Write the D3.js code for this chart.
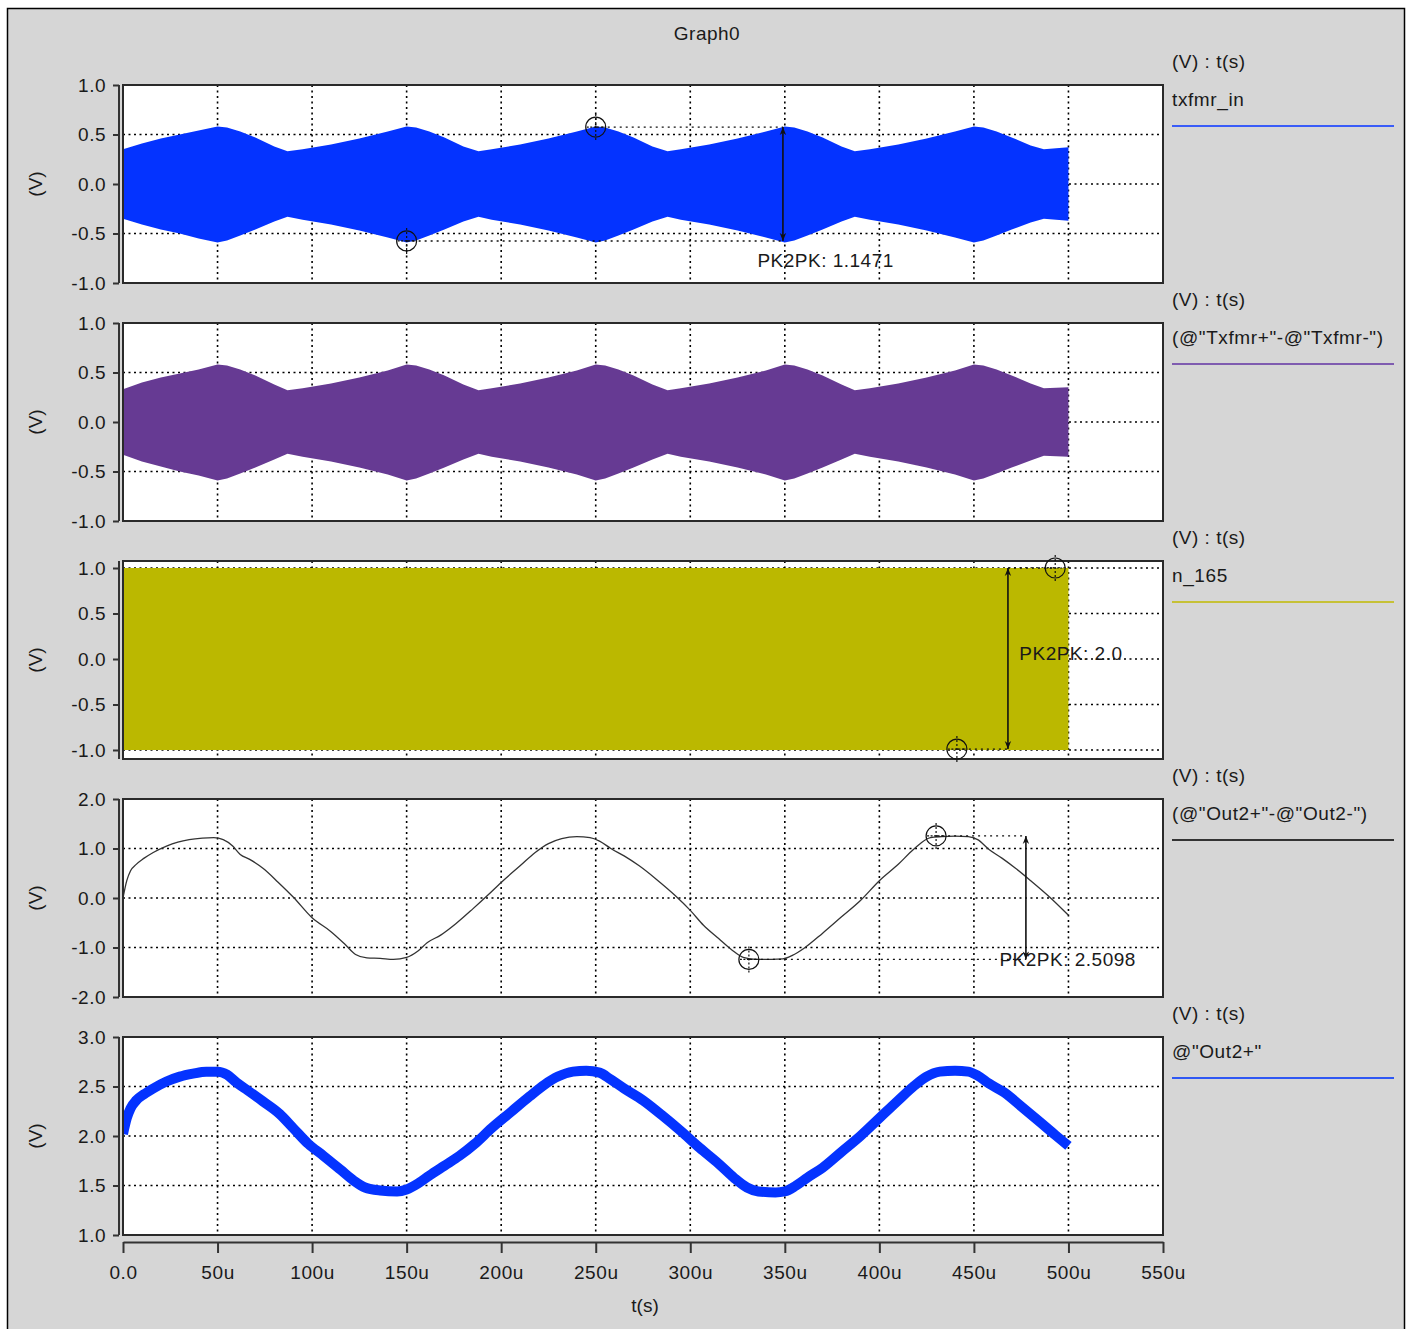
<!DOCTYPE html>
<html><head><meta charset="utf-8">
<script src="https://cdn.jsdelivr.net/npm/d3@7"></script>
<style>
html,body{margin:0;padding:0;background:#fff;}
text{font-family:"Liberation Sans",Arial,sans-serif;fill:#1a1a1a;}
</style>
</head><body>
<svg id="c" width="1410" height="1329"></svg>
<script>
// ---------------- DATA ----------------
const title = "Graph0";
const xTickValues = [0, 50, 100, 150, 200, 250, 300, 350, 400, 450, 500, 550]; // microseconds
const xTickLabels = ["0.0", "50u", "100u", "150u", "200u", "250u", "300u", "350u", "400u", "450u", "500u", "550u"];
const xLabel = "t(s)";

const seriesNames = ["txfmr_in", "(@\"Txfmr+\"-@\"Txfmr-\")", "n_165", "(@\"Out2+\"-@\"Out2-\")", "@\"Out2+\""];
const legendHeader = "(V) : t(s)";
const yLabel = "(V)";

const yTicksA = [-1.0, -0.5, 0.0, 0.5, 1.0];
const yTickLabelsA = ["-1.0", "-0.5", "0.0", "0.5", "1.0"];
const yTicksD = [-2.0, -1.0, 0.0, 1.0, 2.0];
const yTickLabelsD = ["-2.0", "-1.0", "0.0", "1.0", "2.0"];
const yTicksE = [1.0, 1.5, 2.0, 2.5, 3.0];
const yTickLabelsE = ["1.0", "1.5", "2.0", "2.5", "3.0"];

// envelope of txfmr_in (time in us, upper and lower envelope in V)
const envT = [0, 10, 20, 30, 40, 50, 55, 62, 70, 80, 87, 95, 110, 125, 140, 150, 155, 162, 170, 180, 188, 195, 210, 225, 240, 250, 255, 262, 270, 280, 288, 295, 310, 325, 340, 350, 355, 362, 370, 380, 387, 395, 410, 425, 440, 450, 455, 462, 470, 480, 487, 500];
const env1Hi = [0.35, 0.41, 0.46, 0.50, 0.54, 0.58, 0.57, 0.53, 0.47, 0.38, 0.33, 0.35, 0.40, 0.46, 0.53, 0.58, 0.57, 0.53, 0.47, 0.38, 0.33, 0.35, 0.40, 0.46, 0.53, 0.58, 0.57, 0.53, 0.47, 0.38, 0.33, 0.35, 0.40, 0.46, 0.53, 0.58, 0.57, 0.53, 0.47, 0.38, 0.33, 0.35, 0.40, 0.46, 0.53, 0.58, 0.57, 0.53, 0.47, 0.39, 0.35, 0.37];
const env1Lo = [-0.35, -0.41, -0.46, -0.50, -0.55, -0.59, -0.57, -0.52, -0.46, -0.38, -0.33, -0.36, -0.41, -0.47, -0.54, -0.59, -0.57, -0.52, -0.46, -0.38, -0.33, -0.36, -0.41, -0.47, -0.54, -0.59, -0.57, -0.52, -0.46, -0.38, -0.33, -0.36, -0.41, -0.47, -0.54, -0.59, -0.57, -0.52, -0.46, -0.38, -0.33, -0.36, -0.41, -0.47, -0.54, -0.59, -0.57, -0.52, -0.46, -0.39, -0.35, -0.37];
// envelope of Txfmr+ - Txfmr-
const env2Hi = [0.33, 0.40, 0.45, 0.49, 0.53, 0.58, 0.57, 0.53, 0.47, 0.38, 0.32, 0.34, 0.39, 0.45, 0.52, 0.58, 0.57, 0.53, 0.47, 0.38, 0.32, 0.34, 0.39, 0.45, 0.52, 0.58, 0.57, 0.53, 0.47, 0.38, 0.32, 0.34, 0.39, 0.45, 0.52, 0.58, 0.57, 0.53, 0.47, 0.38, 0.32, 0.34, 0.39, 0.45, 0.52, 0.58, 0.57, 0.53, 0.47, 0.39, 0.34, 0.35];
const env2Lo = [-0.33, -0.40, -0.45, -0.50, -0.54, -0.59, -0.57, -0.52, -0.46, -0.38, -0.32, -0.35, -0.40, -0.46, -0.53, -0.59, -0.57, -0.52, -0.46, -0.38, -0.32, -0.35, -0.40, -0.46, -0.53, -0.59, -0.57, -0.52, -0.46, -0.38, -0.32, -0.35, -0.40, -0.46, -0.53, -0.59, -0.57, -0.52, -0.46, -0.38, -0.32, -0.35, -0.40, -0.46, -0.53, -0.59, -0.57, -0.52, -0.46, -0.39, -0.34, -0.35];
// n_165 square wave envelope
const n165T = [0, 500];
const n165Hi = [1.0, 1.0];
const n165Lo = [-1.0, -1.0];
// Out2+ - Out2-
const diffT = [0, 2, 4, 7, 11, 16, 23, 29, 35, 42, 48, 53, 58, 62, 67, 74, 82, 90, 100, 110, 117, 123, 129, 136, 143, 150, 156, 161, 168, 176, 185, 193, 201, 210, 218, 225, 232, 240, 247, 252, 258, 265, 273, 282, 292, 300, 307, 315, 322, 328, 335, 343, 349, 354, 360, 370, 380, 390, 400, 410, 418, 427, 433, 440, 447, 452, 458, 465, 472, 480, 490, 500];
const diffV = [0.0, 0.35, 0.55, 0.68, 0.80, 0.92, 1.05, 1.13, 1.18, 1.21, 1.22, 1.18, 1.05, 0.88, 0.78, 0.60, 0.32, 0.02, -0.40, -0.68, -0.92, -1.14, -1.21, -1.22, -1.24, -1.20, -1.07, -0.90, -0.75, -0.52, -0.22, 0.06, 0.35, 0.65, 0.92, 1.10, 1.20, 1.24, 1.22, 1.15, 1.00, 0.85, 0.65, 0.38, 0.05, -0.25, -0.55, -0.82, -1.05, -1.20, -1.24, -1.24, -1.23, -1.16, -1.02, -0.71, -0.38, -0.05, 0.35, 0.68, 0.98, 1.22, 1.24, 1.25, 1.24, 1.18, 0.98, 0.80, 0.60, 0.35, 0.02, -0.35];
// Out2+
const outT = [0, 2, 4, 7, 11, 16, 23, 30, 37, 44, 50, 55, 60, 66, 74, 83, 90, 98, 106, 115, 122, 128, 136, 145, 150, 156, 162, 170, 178, 186, 195, 205, 215, 223, 230, 238, 245, 252, 258, 265, 275, 285, 295, 305, 315, 323, 330, 336, 345, 350, 356, 362, 370, 380, 390, 400, 410, 418, 425, 432, 440, 447, 452, 458, 466, 475, 485, 493, 500];
const outV = [2.02, 2.18, 2.28, 2.36, 2.42, 2.48, 2.55, 2.60, 2.63, 2.65, 2.65, 2.62, 2.54, 2.46, 2.35, 2.22, 2.08, 1.92, 1.80, 1.66, 1.55, 1.48, 1.45, 1.44, 1.46, 1.52, 1.60, 1.70, 1.80, 1.92, 2.08, 2.24, 2.40, 2.52, 2.60, 2.65, 2.66, 2.64, 2.57, 2.48, 2.36, 2.21, 2.05, 1.88, 1.72, 1.58, 1.48, 1.44, 1.43, 1.44, 1.50, 1.58, 1.68, 1.84, 2.00, 2.18, 2.36, 2.50, 2.60, 2.65, 2.66, 2.65, 2.61, 2.53, 2.44, 2.30, 2.14, 2.01, 1.90];

// PK2PK measurement annotations (time in us, value in V)
const pk1Markers = [[250, 0.575], [150, -0.575]];
const pk1ArrowT = 349, pk1Text = "PK2PK: 1.1471", pk1TextPos = [335.5, -0.84];
const pk3Markers = [[493, 1.0], [441, -0.99]];
const pk3ArrowT = 468, pk3Text = "PK2PK: 2.0", pk3TextPos = [474, -0.01];
const pk4Markers = [[430, 1.255], [331, -1.24]];
const pk4ArrowT = 477.5, pk4Text = "PK2PK: 2.5098", pk4TextPos = [463.5, -1.38];

// ---------------- DRAW ----------------
const svg = d3.select("#c");
const FS = 19;
svg.append("rect").attr("x", 0).attr("y", 0).attr("width", 1410).attr("height", 1329).attr("fill", "#fff");
svg.append("rect").attr("x", 7.5).attr("y", 8.5).attr("width", 1397).attr("height", 1340)
  .attr("fill", "#d6d6d6").attr("stroke", "#000").attr("stroke-width", 1.5);

svg.append("text").attr("x", 707).attr("y", 40).attr("text-anchor", "middle")
  .attr("font-size", FS).attr("letter-spacing", 0.5).text(title);

const x = d3.scaleLinear().domain([0, 550]).range([123, 1163]);
const plotTop0 = 85, pitch = 238, ph = 198;

svg.append("defs").append("marker").attr("id", "ah").attr("viewBox", "0 0 10 10")
  .attr("refX", 10).attr("refY", 5).attr("markerWidth", 8).attr("markerHeight", 9)
  .attr("markerUnits", "userSpaceOnUse").attr("orient", "auto-start-reverse")
  .append("path").attr("d", "M0,1 L10,5 L0,9 L3,5 Z").attr("fill", "#111");

const panels = [
  { dom: [-1, 1], ticks: yTicksA, labels: yTickLabelsA, kind: "env", t: envT, hi: env1Hi, lo: env1Lo, color: "#0433ff", leg: "#3a5cf8" },
  { dom: [-1, 1], ticks: yTicksA, labels: yTickLabelsA, kind: "env", t: envT, hi: env2Hi, lo: env2Lo, color: "#663a93", leg: "#7f5cb0" },
  { dom: [-1.099, 1.077], ticks: yTicksA, labels: yTickLabelsA, kind: "env", t: n165T, hi: n165Hi, lo: n165Lo, color: "#bbb800", leg: "#c6c136" },
  { dom: [-2, 2], ticks: yTicksD, labels: yTickLabelsD, kind: "line", t: diffT, v: diffV, color: "#333", width: 1.3, leg: "#333" },
  { dom: [1, 3], ticks: yTicksE, labels: yTickLabelsE, kind: "line", t: outT, v: outV, color: "#0433ff", width: 10, leg: "#2f58f4" }
];

const ys = [];
panels.forEach((p, i) => {
  const top = plotTop0 + i * pitch, bot = top + ph;
  const y = d3.scaleLinear().domain(p.dom).range([bot, top]);
  ys.push(y);
  const g = svg.append("g");
  const clipId = "clip" + i;
  svg.append("clipPath").attr("id", clipId).append("rect")
    .attr("x", x(0)).attr("y", top).attr("width", x(550) - x(0)).attr("height", ph);
  g.append("rect").attr("x", x(0)).attr("y", top).attr("width", x(550) - x(0)).attr("height", ph).attr("fill", "#fff");
  // grid
  const grid = g.append("g").attr("stroke", "#000").attr("stroke-width", 1.6).attr("stroke-dasharray", "2,3.5");
  xTickValues.filter(v => v > 0 && v < 550).forEach(v => {
    grid.append("line").attr("x1", x(v)).attr("x2", x(v)).attr("y1", top).attr("y2", bot);
  });
  p.ticks.forEach(v => {
    const yy = y(v);
    if (yy > top + 1 && yy < bot - 1)
      grid.append("line").attr("x1", x(0)).attr("x2", x(550)).attr("y1", yy).attr("y2", yy);
  });
  // data
  const dg = g.append("g").attr("clip-path", `url(#${clipId})`);
  if (p.kind === "env") {
    const rows = p.t.map((t, k) => ({ t, hi: p.hi[k], lo: p.lo[k] }));
    dg.append("path").datum(rows)
      .attr("d", d3.area().x(d => x(d.t)).y0(d => y(d.lo)).y1(d => y(d.hi)))
      .attr("fill", p.color);
  } else {
    const rows = p.t.map((t, k) => ({ t, v: p.v[k] }));
    dg.append("path").datum(rows)
      .attr("d", d3.line().x(d => x(d.t)).y(d => y(d.v)).curve(d3.curveMonotoneX))
      .attr("fill", "none").attr("stroke", p.color).attr("stroke-width", p.width)
      .attr("stroke-linecap", "butt").attr("stroke-linejoin", "round");
  }
  // box
  g.append("rect").attr("x", x(0)).attr("y", top).attr("width", x(550) - x(0)).attr("height", ph)
    .attr("fill", "none").attr("stroke", "#2a2a2a").attr("stroke-width", 2);
  // y axis
  const ax = g.append("g").attr("transform", "translate(119,0)")
    .call(d3.axisLeft(y).tickValues(p.ticks).tickFormat((d, k) => p.labels[k]).tickSize(6).tickSizeOuter(0).tickPadding(7));
  ax.select(".domain").remove();
  ax.append("line").attr("x1", 0).attr("x2", 0).attr("y1", top).attr("y2", bot).attr("stroke", "#333").attr("stroke-width", 2);
  ax.selectAll(".tick line").attr("stroke", "#333").attr("stroke-width", 2);
  ax.selectAll(".tick text").attr("font-size", FS).attr("letter-spacing", 0.5)
    .attr("font-family", "Liberation Sans, Arial, sans-serif").attr("fill", "#1a1a1a");
  g.append("text").attr("transform", `translate(35,${(top + bot) / 2}) rotate(-90)`)
    .attr("text-anchor", "middle").attr("dominant-baseline", "central").attr("font-size", FS).text(yLabel);
  // legend
  g.append("text").attr("x", 1172).attr("y", top - 17).attr("font-size", FS).attr("letter-spacing", 0.5).text(legendHeader);
  g.append("text").attr("x", 1172).attr("y", top + 21).attr("font-size", FS).attr("letter-spacing", 0.6).text(seriesNames[i]);
  g.append("line").attr("x1", 1172).attr("x2", 1394).attr("y1", top + 41).attr("y2", top + 41)
    .attr("stroke", p.leg).attr("stroke-width", 2);
});

// bottom x axis
const xa = svg.append("g").attr("transform", "translate(0,1242)")
  .call(d3.axisBottom(x).tickValues(xTickValues).tickFormat((d, k) => xTickLabels[k]).tickSize(11).tickSizeOuter(0).tickPadding(13));
xa.select(".domain").attr("stroke", "#333").attr("stroke-width", 2);
xa.selectAll(".tick line").attr("stroke", "#333").attr("stroke-width", 2);
xa.selectAll(".tick text").attr("font-size", FS).attr("letter-spacing", 0.6)
  .attr("font-family", "Liberation Sans, Arial, sans-serif").attr("fill", "#1a1a1a");
svg.append("text").attr("x", 645).attr("y", 1312).attr("text-anchor", "middle").attr("font-size", FS).text(xLabel);

// PK2PK annotations
function cursor(g, cx, cy) {
  const c = g.append("g");
  c.append("circle").attr("cx", cx).attr("cy", cy).attr("r", 10).attr("fill", "none").attr("stroke", "#111").attr("stroke-width", 1.2);
  c.append("line").attr("x1", cx - 9).attr("x2", cx + 9).attr("y1", cy).attr("y2", cy)
    .attr("stroke", "#111").attr("stroke-width", 1.2).attr("stroke-dasharray", "2,1.5");
  c.append("line").attr("x1", cx).attr("x2", cx).attr("y1", cy - 13).attr("y2", cy + 13)
    .attr("stroke", "#111").attr("stroke-width", 1.2).attr("stroke-dasharray", "2,2");
}
function pk(i, markers, arrowT, text, tpos, leaderEnds) {
  const y = ys[i];
  const g = svg.append("g");
  const [m1, m2] = markers;
  leaderEnds.forEach(([a, b, v]) => {
    g.append("line").attr("x1", x(a)).attr("x2", x(b)).attr("y1", y(v)).attr("y2", y(v))
      .attr("stroke", "#111").attr("stroke-width", 1.4).attr("stroke-dasharray", "2,4");
  });
  g.append("line").attr("x1", x(arrowT)).attr("x2", x(arrowT)).attr("y1", y(m1[1])).attr("y2", y(m2[1]))
    .attr("stroke", "#111").attr("stroke-width", 1.6)
    .attr("marker-start", "url(#ah)").attr("marker-end", "url(#ah)");
  cursor(g, x(m1[0]), y(m1[1]));
  cursor(g, x(m2[0]), y(m2[1]));
  g.append("text").attr("x", x(tpos[0])).attr("y", y(tpos[1])).attr("font-size", FS).attr("letter-spacing", 0.5).text(text);
}
pk(0, pk1Markers, pk1ArrowT, pk1Text, pk1TextPos,
  [[pk1Markers[0][0], pk1ArrowT, pk1Markers[0][1]], [pk1Markers[1][0], pk1ArrowT, pk1Markers[1][1]]]);
pk(2, pk3Markers, pk3ArrowT, pk3Text, pk3TextPos,
  [[pk3ArrowT, pk3Markers[0][0], pk3Markers[0][1]], [pk3Markers[1][0], pk3ArrowT, pk3Markers[1][1]]]);
pk(3, pk4Markers, pk4ArrowT, pk4Text, pk4TextPos,
  [[pk4Markers[0][0], pk4ArrowT, pk4Markers[0][1]], [pk4Markers[1][0], pk4ArrowT, pk4Markers[1][1]]]);
</script>
</body></html>
